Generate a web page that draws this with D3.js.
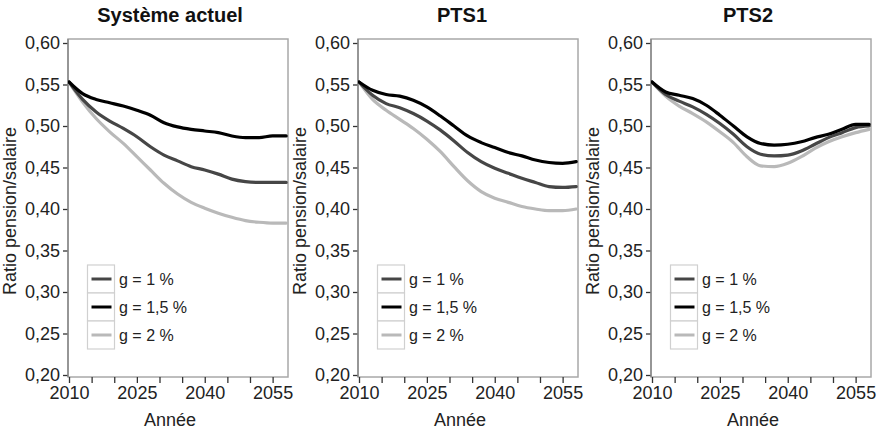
<!DOCTYPE html>
<html>
<head>
<meta charset="utf-8">
<script src="https://cdn.jsdelivr.net/npm/d3@7"></script>
<style>
  body { margin: 0; background: #fff; }
  svg { display: block; font-family: "Liberation Sans", Arial, sans-serif; }
</style>
</head>
<body>
<div id="chart"></div>
<script>
// --- data ---
const panelTitles = ["Système actuel", "PTS1", "PTS2"];
const seriesLabels = ["g = 1 %", "g = 1,5 %", "g = 2 %"];
const years = [2010, 2013, 2016, 2019, 2022, 2025, 2028, 2031, 2034, 2037, 2040, 2043, 2046, 2049, 2052, 2055, 2058];

// Système actuel
const actuelG1  = [.553, .532, .517, .506, .497, .487, .475, .465, .458, .451, .447, .442, .436, .433, .432, .432, .432];
const actuelG15 = [.553, .539, .532, .528, .524, .519, .513, .504, .499, .496, .494, .492, .488, .486, .486, .488, .488];
const actuelG2  = [.553, .529, .509, .493, .479, .463, .447, .431, .418, .408, .401, .395, .390, .386, .384, .383, .383];
// PTS1
const pts1G1  = [.553, .537, .527, .522, .515, .506, .495, .482, .468, .457, .449, .443, .437, .432, .427, .426, .427];
const pts1G15 = [.553, .543, .538, .536, .531, .523, .512, .500, .488, .480, .474, .468, .464, .459, .456, .455, .457];
const pts1G2  = [.553, .532, .519, .508, .497, .484, .469, .451, .434, .421, .413, .408, .403, .400, .398, .398, .400];
// PTS2
const pts2G1  = [.553, .538, .530, .523, .514, .503, .490, .475, .466, .464, .465, .470, .478, .486, .492, .498, .500];
const pts2G15 = [.553, .541, .537, .533, .525, .513, .500, .487, .479, .477, .478, .481, .486, .490, .496, .502, .502];
const pts2G2  = [.553, .536, .524, .515, .505, .493, .480, .463, .452, .451, .455, .463, .473, .481, .487, .492, .496];

const yTicks = [0.20, 0.25, 0.30, 0.35, 0.40, 0.45, 0.50, 0.55, 0.60];
const xTicks = [2010, 2015, 2020, 2025, 2030, 2035, 2040, 2045, 2050, 2055];
const xLabelled = [2010, 2025, 2040, 2055];

const panelData = [
  [actuelG1, actuelG15, actuelG2],
  [pts1G1, pts1G15, pts1G2],
  [pts2G1, pts2G15, pts2G2]
];

// --- layout ---
const width = 877, height = 432;
const axisX = [68, 358, 651];
const titleX = [170, 462, 748];
const plotW = 220, plotTop = 39, plotBottom = 377;
const colors = ["#464646", "#000000", "#b9b9b9"];
const drawOrder = [2, 0, 1]; // light under, black on top

const fr = d3.formatLocale({decimal: ",", thousands: " ", grouping: [3], currency: ["", "€"]});
const fmtY = fr.format(".2f");

const svg = d3.select("#chart").append("svg")
  .attr("width", width).attr("height", height);

const defs = svg.append("defs");

panelTitles.forEach((title, i) => {
  const x0 = axisX[i];
  const x = d3.scaleLinear().domain([2010, 2058.4]).range([x0 + 1, x0 + plotW]);
  const y = d3.scaleLinear().domain([0.20, 0.60]).range([375, 43]);

  const g = svg.append("g");

  // title
  g.append("text")
    .attr("x", titleX[i]).attr("y", 22)
    .attr("text-anchor", "middle")
    .style("font-size", "20px").style("font-weight", "bold")
    .attr("fill", "#111")
    .text(title);

  // frame
  g.append("rect")
    .attr("x", x0).attr("y", plotTop)
    .attr("width", plotW).attr("height", plotBottom - plotTop)
    .attr("fill", "none").attr("stroke", "#a8a8a8").attr("stroke-width", 1.5);

  // clip
  defs.append("clipPath").attr("id", "clip" + i)
    .append("rect")
    .attr("x", x0).attr("y", plotTop)
    .attr("width", plotW).attr("height", plotBottom - plotTop);

  // y axis
  const yAxis = g.append("g")
    .attr("transform", `translate(${x0},0)`)
    .call(d3.axisLeft(y).tickValues(yTicks).tickFormat(fmtY).tickSize(5).tickPadding(3));
  yAxis.select(".domain").remove();
  yAxis.selectAll(".tick line").attr("stroke", "#333").attr("stroke-width", 1.3);
  yAxis.selectAll(".tick text")
    .style("font-size", "18px").style("font-family", "'Liberation Sans', Arial, sans-serif")
    .attr("fill", "#222");

  // x axis
  const xAxis = g.append("g")
    .attr("transform", `translate(0,${plotBottom})`)
    .call(d3.axisBottom(x).tickValues(xTicks)
      .tickFormat(d => xLabelled.includes(d) ? d : "")
      .tickSize(6).tickPadding(3));
  xAxis.select(".domain").remove();
  xAxis.selectAll(".tick line").attr("stroke", "#333").attr("stroke-width", 1.3);
  xAxis.selectAll(".tick text")
    .style("font-size", "18px").style("font-family", "'Liberation Sans', Arial, sans-serif")
    .attr("fill", "#222");

  // left axis line
  g.append("line")
    .attr("x1", x0).attr("x2", x0)
    .attr("y1", plotTop).attr("y2", plotBottom)
    .attr("stroke", "#8a8a8a").attr("stroke-width", 1.5);

  // axis titles
  g.append("text")
    .attr("x", x0 + plotW / 2 - 8).attr("y", 426)
    .attr("text-anchor", "middle")
    .style("font-size", "18px").attr("fill", "#222")
    .text("Année");

  g.append("text")
    .attr("transform", `translate(${x0 - 52},${(plotTop + plotBottom) / 2 + 3}) rotate(-90)`)
    .attr("text-anchor", "middle")
    .style("font-size", "18px").attr("fill", "#222")
    .text("Ratio pension/salaire");

  // lines
  const line = d3.line()
    .x((d, k) => x(years[k]))
    .y(d => y(d))
    .curve(d3.curveMonotoneX);

  const lines = g.append("g").attr("clip-path", `url(#clip${i})`);
  drawOrder.forEach(s => {
    lines.append("path")
      .datum(panelData[i][s])
      .attr("d", line)
      .attr("fill", "none")
      .attr("stroke", colors[s])
      .attr("stroke-width", 3.2)
      .attr("stroke-linejoin", "round")
      .attr("stroke-linecap", "round");
  });

  // legend
  const lx = x0 + 19.5, ly = 265, rowH = 28;
  const leg = g.append("g");
  seriesLabels.forEach((lab, s) => {
    leg.append("rect")
      .attr("x", lx).attr("y", ly + s * rowH)
      .attr("width", 27).attr("height", rowH)
      .attr("fill", "#fff").attr("stroke", "#d0d0d0").attr("stroke-width", 1.2);
    leg.append("line")
      .attr("x1", lx + 4).attr("x2", lx + 24)
      .attr("y1", ly + s * rowH + 14).attr("y2", ly + s * rowH + 14)
      .attr("stroke", colors[s]).attr("stroke-width", 3);
    leg.append("text")
      .attr("x", lx + 31.5).attr("y", ly + s * rowH + 14)
      .attr("dy", "0.35em")
      .style("font-size", "16px").attr("fill", "#222")
      .text(lab);
  });
});
</script>
</body>
</html>
